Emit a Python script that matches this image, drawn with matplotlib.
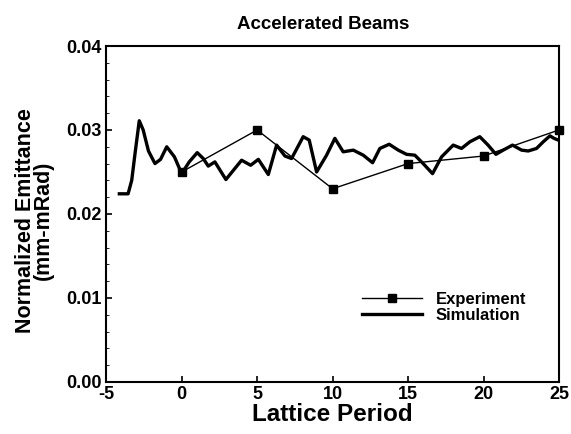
import matplotlib
matplotlib.use('Agg')
import matplotlib.pyplot as plt
from matplotlib.ticker import MultipleLocator, FormatStrFormatter

plt.rcParams['font.family'] = ['Liberation Sans', 'DejaVu Sans']
plt.rcParams['font.weight'] = 'bold'
plt.rcParams['axes.unicode_minus'] = False

# experiment (square markers)
exp_period = [0, 5, 10, 15, 20, 25]
exp_emit = [0.0250, 0.0300, 0.0230, 0.0260, 0.0269, 0.0300]

# simulation
sim_period = [-4.13, -3.55, -3.31, -3.09, -2.81, -2.55, -2.2, -1.77, -1.4, -0.99,
              -0.48, 0.0, 0.5, 1.03, 1.43, 1.76, 2.2, 2.93, 3.97, 4.57,
              5.08, 5.74, 6.29, 6.84, 7.28, 8.05, 8.45, 8.94, 9.6, 10.15,
              10.7, 11.37, 12.03, 12.65, 13.13, 13.75, 14.35, 14.9, 15.45, 16.0,
              16.62, 17.22, 17.99, 18.54, 19.1, 19.75, 20.3, 20.82, 21.3, 21.92,
              22.52, 22.96, 23.51, 23.96, 24.4, 24.67, 24.95]
sim_emit = [0.0224, 0.0224, 0.0240, 0.0272, 0.0311, 0.0300, 0.0275, 0.0260, 0.0265, 0.0280,
            0.0268, 0.0248, 0.0262, 0.0273, 0.0266, 0.0257, 0.0262, 0.0241, 0.0264, 0.0258,
            0.0265, 0.0247, 0.0282, 0.0269, 0.0266, 0.0292, 0.0288, 0.0250, 0.0270, 0.0290,
            0.0274, 0.0276, 0.0270, 0.0261, 0.0278, 0.0283, 0.0276, 0.0271, 0.0270, 0.0260,
            0.0248, 0.0268, 0.0282, 0.0278, 0.0286, 0.0292, 0.0282, 0.0271, 0.0276, 0.0282,
            0.0276, 0.0275, 0.0278, 0.0286, 0.0293, 0.0290, 0.0288]

fig = plt.figure(figsize=(5.71, 4.34), dpi=100)
ax = fig.add_axes([0.186, 0.12, 0.793, 0.774])

ax.plot(exp_period, exp_emit, color='black', lw=1.0, marker='s', markersize=6,
        label='Experiment', clip_on=False, zorder=3)
ax.plot(sim_period, sim_emit, color='black', lw=2.4, label='Simulation')

ax.set_xlim(-5, 25)
ax.set_ylim(0, 0.04)
ax.xaxis.set_major_locator(MultipleLocator(5))
ax.yaxis.set_major_locator(MultipleLocator(0.01))
ax.yaxis.set_minor_locator(MultipleLocator(0.002))
ax.yaxis.set_major_formatter(FormatStrFormatter('%.2f'))
ax.tick_params(direction='in', labelsize=13, length=4, width=1.2, pad=3)
ax.tick_params(which='minor', direction='in', length=2.5)
for sp in ax.spines.values():
    sp.set_linewidth(1.5)

ax.set_title('Accelerated Beams', fontsize=13.5, fontweight='bold', pad=12, x=0.48)
ax.set_xlabel('Lattice Period', fontsize=17.5, fontweight='bold', labelpad=0)
ax.set_ylabel('Normalized Emittance\n(mm-mRad)', fontsize=15.5, fontweight='bold',
              linespacing=0.85)
ax.yaxis.set_label_coords(-0.115, 0.48)

leg = ax.legend(loc='lower right', bbox_to_anchor=(0.96, 0.13), frameon=False,
                fontsize=12, handlelength=3.6, labelspacing=0.1)

fig.savefig('out.png', dpi=100)
